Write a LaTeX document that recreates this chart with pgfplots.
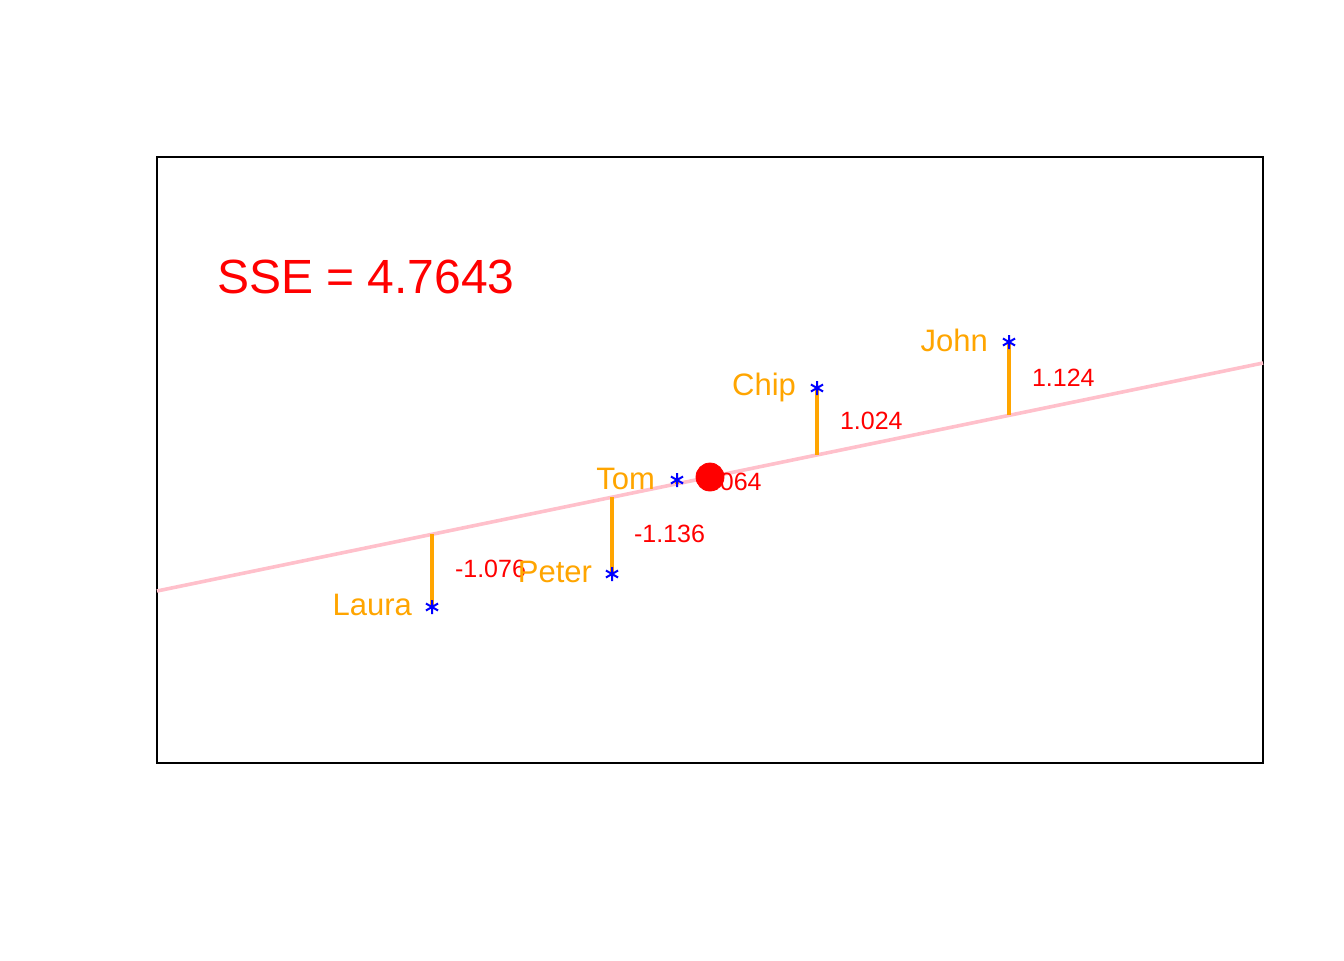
\documentclass[border=0pt]{standalone}
\usepackage{pgfplots}
\pgfplotsset{compat=1.18}
\usepackage{fontspec}
\setmainfont{Liberation Sans}
\definecolor{orng}{RGB}{255,165,0}
\definecolor{pnk}{RGB}{255,192,203}
\begin{document}
\begin{tikzpicture}[x=0.5pt,y=0.5pt]
\begin{axis}[at={(157pt*0.5,197pt*0.5)},anchor=south west,scale only axis,width=553pt,height=303pt,
 xmin=157,xmax=1263,ymin=157,ymax=763,y dir=reverse,axis line style={line width=0.6pt},
 xtick=\empty,ytick=\empty,clip=false]
\path (axis cs:0,0) rectangle (axis cs:1344,960);
\addplot[pnk,line width=1.8pt] coordinates {(157,591) (1263,363)};
\addplot[orng,line width=1.8pt] coordinates {(432,607) (432,534)};
\addplot[orng,line width=1.8pt] coordinates {(612,574) (612,497)};
\addplot[orng,line width=1.8pt] coordinates {(677,480) (677,484)};
\addplot[orng,line width=1.8pt] coordinates {(817,388) (817,455)};
\addplot[orng,line width=1.8pt] coordinates {(1009,342) (1009,415)};
\addplot[only marks,mark=asterisk,blue,mark size=3.5pt,line width=1pt] coordinates {(432,607) (612,574) (677,480) (817,388) (1009,342)};
\node[red,anchor=west,font=\fontsize{12.5}{12.5}\selectfont] at (axis cs:692,482) {0.064};
\addplot[only marks,mark=*,red,mark size=7pt] coordinates {(710,477)};
\node[red,anchor=west,font=\fontsize{12.5}{12.5}\selectfont] at (axis cs:448,569) {-1.076};
\node[red,anchor=west,font=\fontsize{12.5}{12.5}\selectfont] at (axis cs:627,534) {-1.136};
\node[red,anchor=west,font=\fontsize{12.5}{12.5}\selectfont] at (axis cs:833,421) {1.024};
\node[red,anchor=west,font=\fontsize{12.5}{12.5}\selectfont] at (axis cs:1025,378) {1.124};
\node[orng,anchor=east,font=\fontsize{15.5}{15.5}\selectfont] at (axis cs:419,605) {Laura};
\node[orng,anchor=east,font=\fontsize{15.5}{15.5}\selectfont] at (axis cs:599,572) {Peter};
\node[orng,anchor=east,font=\fontsize{15.5}{15.5}\selectfont] at (axis cs:662,479) {Tom};
\node[orng,anchor=east,font=\fontsize{15.5}{15.5}\selectfont] at (axis cs:803,387) {Chip};
\node[orng,anchor=east,font=\fontsize{15.5}{15.5}\selectfont] at (axis cs:995,340) {John};
\node[red,anchor=west,font=\fontsize{24}{24}\selectfont] at (axis cs:210,277) {SSE = 4.7643};
\end{axis}
\end{tikzpicture}
\end{document}
